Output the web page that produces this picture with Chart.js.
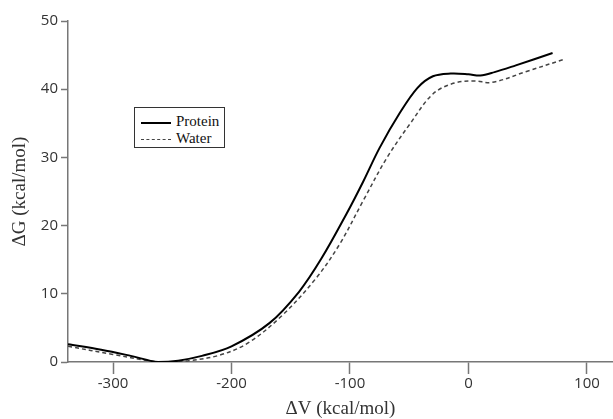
<!DOCTYPE html>
<html>
<head>
<meta charset="utf-8">
<script src="https://cdn.jsdelivr.net/npm/chart.js@4"></script>
<style>
  html, body { margin: 0; padding: 0; background: #fff; }
  #wrap { position: relative; width: 613px; height: 419px; }
  #legend {
    position: absolute; left: 134px; top: 107px; width: 91px; height: 41px;
    border: 1px solid #333; box-sizing: border-box; background: #fff;
    font: 15px "Liberation Serif", serif; color: #111; padding: 5px 0 0 6px;
  }
  #legend .row { height: 17px; line-height: 17px; white-space: nowrap; }
  #legend .sw { display: inline-block; width: 30px; vertical-align: middle; margin-right: 5px; }
  #legend .solid { border-top: 2px solid #000; }
  #legend .dash { border-top: 1.5px dashed #444; }
</style>
</head>
<body>
<div id="wrap">
  <canvas id="c" width="613" height="419"></canvas>
  <div id="legend">
    <div class="row"><span class="sw solid"></span>Protein</div>
    <div class="row"><span class="sw dash"></span>Water</div>
  </div>
</div>
<script>
// values, dV (kcal/mol) vs dG (kcal/mol)
const proteinX = [-338, -310, -285, -262, -245, -225, -200, -168, -143, -124, -103, -89, -75, -58, -43, -30, -15, 0, 10, 22, 40, 71];
const proteinY = [2.6, 1.8, 0.9, 0.0, 0.2, 0.9, 2.3, 5.7, 10.3, 15.2, 21.7, 26.4, 31.4, 36.5, 40.2, 41.9, 42.3, 42.2, 42.0, 42.5, 43.5, 45.3];
const waterX = [-338, -300, -270, -254, -236, -210, -186, -158, -129, -109, -89, -69, -49, -30, -12, 5, 20, 49, 81];
const waterY = [2.3, 1.1, 0.2, 0.0, 0.2, 1.0, 2.8, 6.7, 12.2, 17.2, 23.6, 29.9, 35.0, 39.3, 40.9, 41.2, 41.0, 42.6, 44.4];
const xTicks = [-300, -200, -100, 0, 100];
const yTicks = [0, 10, 20, 30, 40, 50];

const pts = (xs, ys) => xs.map((x, i) => ({ x, y: ys[i] }));
const axisCol = '#777';
const tickFont = { family: '"Open Sans", sans-serif', size: 15 };
const titleFont = { family: '"Liberation Serif", serif', size: 19 };

new Chart(document.getElementById('c'), {
  type: 'line',
  data: {
    datasets: [
      { label: 'Protein', data: pts(proteinX, proteinY), borderColor: '#000', borderWidth: 2,
        pointRadius: 0, tension: 0.35, fill: false },
      { label: 'Water', data: pts(waterX, waterY), borderColor: '#444', borderWidth: 1.5,
        borderDash: [4, 3], pointRadius: 0, tension: 0.35, fill: false }
    ]
  },
  options: {
    responsive: false, animation: false, events: [],
    layout: { padding: { top: 21, right: 0, left: 0, bottom: 0 } },
    plugins: { legend: { display: false }, tooltip: { enabled: false } },
    scales: {
      x: {
        type: 'linear', min: -338, max: 122,
        afterBuildTicks: (s) => { s.ticks = xTicks.map((v) => ({ value: v })); },
        afterFit: (s) => { s.height = 57; },
        ticks: { color: '#333', font: tickFont, padding: 1, maxRotation: 0 },
        grid: { drawOnChartArea: false, tickLength: 12, color: axisCol, tickWidth: 1.5 },
        border: { color: axisCol, width: 1.5 },
        title: { display: true, text: 'ΔV (kcal/mol)', color: '#333', font: titleFont, padding: { top: 0, bottom: -1 } }
      },
      y: {
        min: 0, max: 50,
        afterBuildTicks: (s) => { s.ticks = yTicks.map((v) => ({ value: v })); },
        afterFit: (s) => { s.width = 68; },
        ticks: { color: '#333', font: tickFont, padding: 3 },
        grid: { drawOnChartArea: false, tickLength: 7, color: axisCol, tickWidth: 1.5 },
        border: { color: axisCol, width: 1.5 },
        title: { display: true, text: 'ΔG (kcal/mol)', color: '#333', font: titleFont, padding: { top: 9, bottom: 0 } }
      }
    }
  }
});
</script>
</body>
</html>
